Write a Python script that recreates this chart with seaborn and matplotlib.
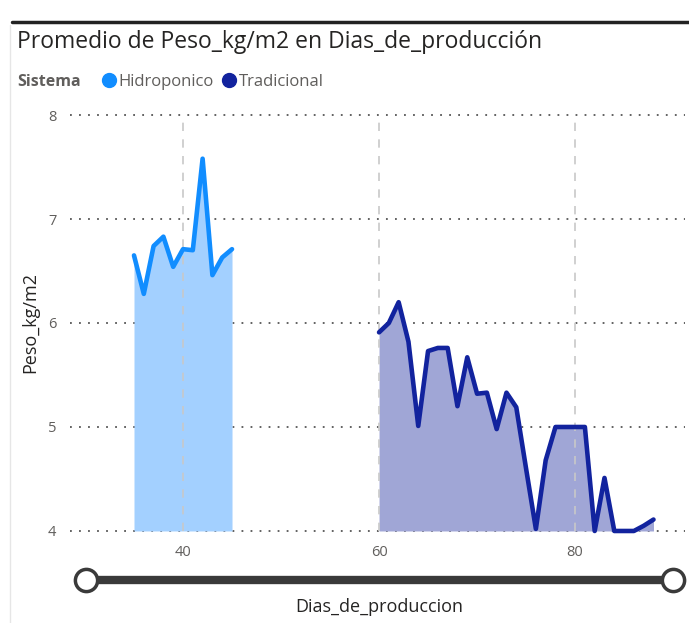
import numpy as np
import pandas as pd
import matplotlib.pyplot as plt
import seaborn as sns
from matplotlib.lines import Line2D

# data
dias_hidro = list(range(35, 46))
peso_hidro = [6.65, 6.28, 6.74, 6.83, 6.54, 6.71, 6.70, 7.58, 6.46, 6.63, 6.71]

dias_trad = list(range(60, 89))
peso_trad = [5.91, 6.00, 6.20, 5.82, 5.01, 5.73, 5.76, 5.76, 5.20, 5.67,
             5.32, 5.33, 4.98, 5.33, 5.19, 4.60, 4.02, 4.68, 5.00, 5.00,
             5.00, 5.00, 4.00, 4.51, 4.00, 4.00, 4.00, 4.05, 4.11]

sistemas = ["Hidroponico", "Tradicional"]
colores = {"Hidroponico": "#118DFF", "Tradicional": "#12239E"}
rellenos = {"Hidroponico": "#A3D0FF", "Tradicional": "#A0A6D6"}

df = pd.DataFrame({
    "Dias_de_produccion": dias_hidro + dias_trad,
    "Peso_kg/m2": peso_hidro + peso_trad,
    "Sistema": ["Hidroponico"] * len(dias_hidro) + ["Tradicional"] * len(dias_trad),
})

sns.set_style("white")
plt.rcParams["font.family"] = ["Open Sans", "DejaVu Sans"]

fig = plt.figure(figsize=(6.89, 6.23), dpi=100)
ax = fig.add_axes([0.102, 0.1477, 0.892, 0.6677])

for s in sistemas:
    d = df[df["Sistema"] == s]
    ax.fill_between(d["Dias_de_produccion"], 4, d["Peso_kg/m2"], color=rellenos[s], lw=0, zorder=1)

sns.lineplot(data=df, x="Dias_de_produccion", y="Peso_kg/m2", hue="Sistema",
             palette=colores, lw=3.3, ax=ax, legend=False, zorder=3)
for ln in ax.lines:
    ln.set_clip_on(False)
    ln.set_solid_joinstyle("round")

ax.set_xlim(28.5, 91.2)
ax.set_ylim(4, 8)
ax.set_yticks([4, 5, 6, 7, 8])
ax.set_xticks([40, 60, 80])
for y in [4, 5, 6, 7, 8]:
    ax.axhline(y, color="#555555", lw=1.3, ls=(0, (1, 4)), zorder=0, clip_on=False)
for x in [40, 60, 80]:
    ax.axvline(x, color="#C8C8C8", lw=1.2, ls=(0, (5, 5)), zorder=2)
for sp in ax.spines.values():
    sp.set_visible(False)
ax.tick_params(axis="both", length=0, labelsize=10.5, labelcolor="#605E5C", pad=10)
ax.set_xlabel("")
ax.set_ylabel("Peso_kg/m2", fontsize=13, color="#252423", labelpad=6)

# title and legend
fig.text(0.025, 0.932, "Promedio de Peso_kg/m2 en Dias_de_producción", fontsize=16.5,
         color="#252423", va="center")
fig.text(0.025, 0.869, "Sistema", fontsize=11.5, fontweight="bold", color="#605E5C", va="center")
handles = [Line2D([], [], marker="o", ls="", markersize=10, color=colores[s]) for s in sistemas]
fig.legend(handles, sistemas, loc="center left", bbox_to_anchor=(0.140, 0.869), ncol=2,
           frameon=False, fontsize=12, handletextpad=-0.2, columnspacing=0.2,
           handlelength=1.5, labelcolor="#605E5C", borderaxespad=0, borderpad=0)

# frame lines
fig.add_artist(Line2D([12 / 689, 1], [1 - 22 / 623] * 2, color="#222222", lw=2.5))
fig.add_artist(Line2D([10 / 689] * 2, [0, 1 - 25 / 623], color="#E6E6E6", lw=1))

# slider
sax = fig.add_axes([0.0, 1 - 600 / 623, 1.0, 40 / 623])
sax.set_xlim(0, 689)
sax.set_ylim(-1, 1)
sax.axis("off")
sax.plot([86, 673], [0, 0], color="#3A3A3A", lw=6, solid_capstyle="butt")
sax.plot([86, 673], [0, 0], ls="", marker="o", markersize=16, mfc="white", mec="#3A3A3A", mew=2.5)

fig.text(379 / 689, 1 - 607 / 623, "Dias_de_produccion", fontsize=13, color="#252423",
         ha="center", va="center")

fig.savefig("out.png", dpi=100)
